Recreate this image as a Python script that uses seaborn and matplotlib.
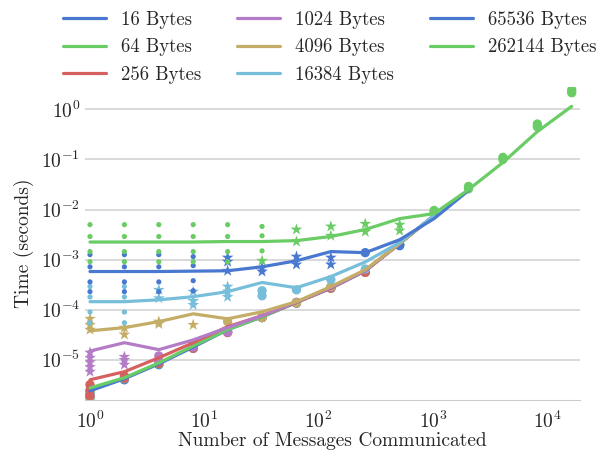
import math

import pandas as pd
import seaborn as sns
from matplotlib import pyplot as plt
from matplotlib.ticker import FuncFormatter, FixedLocator

# message sizes (bytes) and number of messages
sizes = [16, 64, 256, 1024, 4096, 16384, 65536, 262144]
counts = [1, 2, 4, 8, 16, 32, 64, 128, 256, 512, 1024, 2048, 4096, 8192, 16384]
x_ticks = [1, 10, 100, 1000, 10000]
y_ticks = [1e-5, 1e-4, 1e-3, 1e-2, 1e-1, 1]

# average time (seconds) per message count, one list per size
line_16 = [2.4e-6, 4.2e-6, 8.3e-6, 1.8e-5, 4.0e-5, 7.2e-5, 1.4e-4, 2.7e-4, 6.0e-4, 2.1e-3, 7.6e-3]
line_64 = [2.75e-6, 4.4e-6, 8.7e-6, 1.9e-5, 4.0e-5, 7.2e-5, 1.4e-4, 2.7e-4, 6.0e-4, 2.1e-3, 7.6e-3]
line_256 = [4.0e-6, 5.8e-6, 1.1e-5, 2.2e-5, 4.6e-5, 7.6e-5, 1.4e-4, 2.7e-4, 6.0e-4, 2.1e-3, 7.6e-3]
line_1024 = [1.5e-5, 2.2e-5, 1.6e-5, 2.5e-5, 4.4e-5, 7.6e-5, 1.42e-4, 2.75e-4, 6.0e-4, 2.1e-3, 7.6e-3]
line_4096 = [3.8e-5, 4.4e-5, 5.8e-5, 8.3e-5, 6.6e-5, 9.1e-5, 1.45e-4, 2.9e-4, 6.3e-4, 2.1e-3, 7.6e-3]
line_16384 = [1.45e-4, 1.45e-4, 1.58e-4, 1.82e-4, 2.3e-4, 3.5e-4, 2.75e-4, 4.6e-4, 9.0e-4, 2.2e-3, 7.6e-3]
line_65536 = [5.8e-4, 5.8e-4, 5.8e-4, 5.9e-4, 6.0e-4, 7.2e-4, 9.5e-4, 1.45e-3, 1.38e-3, 2.5e-3, 6.6e-3, 2.4e-2]
line_262144 = [2.25e-3, 2.25e-3, 2.25e-3, 2.25e-3, 2.3e-3, 2.3e-3, 2.4e-3, 2.9e-3, 4.0e-3, 6.6e-3,
               8.3e-3, 2.5e-2, 8.7e-2, 0.36, 1.15]

# individual runs: (messages, seconds, marker kind)
pts_16 = [(1, 1.8e-6, 'circle'), (1, 2.1e-6, 'circle'), (2, 4.0e-6, 'circle'), (4, 8.0e-6, 'circle'),
          (8, 1.7e-5, 'circle'), (16, 3.6e-5, 'circle'), (32, 7.0e-5, 'circle'), (64, 1.35e-4, 'circle'),
          (128, 2.7e-4, 'circle'), (256, 5.6e-4, 'circle'), (512, 2.0e-3, 'circle')]
pts_64 = [(1, 1.7e-6, 'circle'), (1, 2.3e-6, 'circle'), (2, 4.2e-6, 'circle'), (4, 8.3e-6, 'circle'),
          (8, 1.75e-5, 'circle'), (16, 3.6e-5, 'circle'), (32, 7.0e-5, 'circle'), (64, 1.4e-4, 'circle'),
          (128, 2.7e-4, 'circle'), (256, 5.6e-4, 'circle'), (512, 2.0e-3, 'circle')]
pts_256 = [(1, 1.9e-6, 'circle'), (1, 2.5e-6, 'circle'), (1, 3.2e-6, 'circle'), (2, 4.3e-6, 'circle'),
           (2, 4.8e-6, 'circle'), (4, 8.5e-6, 'circle'), (8, 1.7e-5, 'circle'), (16, 3.5e-5, 'circle'),
           (32, 7.0e-5, 'circle'), (64, 1.4e-4, 'circle'), (128, 2.7e-4, 'circle'), (256, 5.6e-4, 'circle')]
pts_1024 = [(1, 5.8e-6, 'star'), (1, 7.2e-6, 'star'), (1, 9.0e-6, 'star'), (1, 1.1e-5, 'star'),
            (1, 1.4e-5, 'star'), (2, 8.0e-6, 'star'), (2, 1.0e-5, 'star'), (2, 1.15e-5, 'star'),
            (4, 9.5e-6, 'circle'), (4, 1.2e-5, 'circle'), (8, 1.8e-5, 'circle'), (8, 2.1e-5, 'circle'),
            (16, 3.6e-5, 'circle'), (32, 7.0e-5, 'circle'), (64, 1.4e-4, 'circle'), (128, 2.8e-4, 'circle')]
pts_4096 = [(1, 4.0e-5, 'star'), (1, 5.0e-5, 'star'), (1, 6.6e-5, 'star'), (2, 3.2e-5, 'star'),
            (2, 4.4e-5, 'star'), (4, 5.2e-5, 'star'), (4, 5.8e-5, 'star'), (8, 5.0e-5, 'star'),
            (16, 5.8e-5, 'circle'), (32, 7.0e-5, 'circle'), (64, 1.38e-4, 'circle'), (128, 2.9e-4, 'circle')]
pts_16384 = [(1, 2.9e-4, 'dot'), (1, 1.8e-4, 'dot'), (1, 9.0e-5, 'dot'), (1, 5.5e-5, 'dot'),
             (2, 2.9e-4, 'dot'), (2, 1.8e-4, 'dot'), (2, 9.0e-5, 'dot'), (2, 5.5e-5, 'dot'),
             (4, 2.5e-4, 'star'), (4, 1.7e-4, 'star'), (8, 2.3e-4, 'star'), (8, 1.5e-4, 'star'),
             (8, 1.25e-4, 'star'), (16, 2.9e-4, 'star'), (16, 2.3e-4, 'star'), (16, 1.8e-4, 'star'),
             (32, 2.4e-4, 'circle'), (32, 1.9e-4, 'circle'), (64, 2.5e-4, 'circle'), (128, 4.0e-4, 'circle'),
             (256, 6.5e-4, 'circle'), (512, 2.0e-3, 'circle')]
pts_65536 = [(1, 1.26e-3, 'dot'), (1, 7.2e-4, 'dot'), (1, 3.6e-4, 'dot'), (1, 2.3e-4, 'dot'),
             (2, 1.26e-3, 'dot'), (2, 7.2e-4, 'dot'), (2, 3.6e-4, 'dot'), (2, 2.3e-4, 'dot'),
             (4, 1.26e-3, 'dot'), (4, 7.2e-4, 'dot'), (4, 3.6e-4, 'dot'), (4, 2.3e-4, 'dot'),
             (8, 1.15e-3, 'dot'), (8, 7.6e-4, 'dot'), (8, 3.8e-4, 'dot'), (8, 2.4e-4, 'dot'),
             (16, 1.1e-3, 'star'), (16, 9.1e-4, 'star'), (16, 6.0e-4, 'star'), (32, 6.9e-4, 'star'),
             (32, 5.8e-4, 'star'), (64, 1.15e-3, 'star'), (64, 8.0e-4, 'star'), (128, 1.1e-3, 'star'),
             (128, 8.0e-4, 'star'), (256, 1.38e-3, 'circle'), (512, 1.9e-3, 'circle')]
pts_262144 = [(1, 5.0e-3, 'dot'), (1, 2.9e-3, 'dot'), (1, 1.45e-3, 'dot'), (1, 9.1e-4, 'dot'),
              (2, 5.0e-3, 'dot'), (2, 2.9e-3, 'dot'), (2, 1.45e-3, 'dot'), (2, 9.1e-4, 'dot'),
              (4, 5.0e-3, 'dot'), (4, 2.9e-3, 'dot'), (4, 1.45e-3, 'dot'), (4, 9.1e-4, 'dot'),
              (8, 5.0e-3, 'dot'), (8, 2.9e-3, 'dot'), (8, 1.45e-3, 'dot'), (8, 9.1e-4, 'dot'),
              (16, 5.0e-3, 'dot'), (16, 2.9e-3, 'dot'), (16, 1.45e-3, 'dot'), (16, 9.1e-4, 'dot'),
              (32, 4.6e-3, 'dot'), (32, 3.0e-3, 'dot'), (32, 1.5e-3, 'dot'), (32, 9.5e-4, 'star'),
              (64, 4.0e-3, 'star'), (64, 2.3e-3, 'star'), (128, 4.6e-3, 'star'), (128, 3.0e-3, 'star'),
              (256, 5.2e-3, 'star'), (256, 3.6e-3, 'star'), (512, 5.0e-3, 'star'), (512, 3.8e-3, 'star'),
              (1024, 8.7e-3, 'circle'), (1024, 9.6e-3, 'circle'), (2048, 2.6e-2, 'circle'),
              (2048, 2.9e-2, 'circle'), (4096, 0.1, 'circle'), (4096, 0.11, 'circle'),
              (8192, 0.45, 'circle'), (8192, 0.51, 'circle'), (16384, 2.15, 'circle'), (16384, 2.45, 'circle')]

colors = ["#4878CF", "#6ACC65", "#D65F5F", "#B47CC7", "#C4AD66", "#77BEDB", "#4878CF", "#6ACC65"]

lines = [line_16, line_64, line_256, line_1024, line_4096, line_16384, line_65536, line_262144]
points = [pts_16, pts_64, pts_256, pts_1024, pts_4096, pts_16384, pts_65536, pts_262144]
labels = [f'{s} Bytes' for s in sizes]
palette = dict(zip(labels, colors))

line_rows = []
pt_rows = []
for lab, ln, pts in zip(labels, lines, points):
    for n, t in zip(counts, ln):
        line_rows.append({'n': n, 'time': t, 'label': lab})
    for n, t, kind in pts:
        pt_rows.append({'n': n, 'time': t, 'label': lab, 'kind': kind})
line_df = pd.DataFrame(line_rows)
pt_df = pd.DataFrame(pt_rows)

sns.set_style('whitegrid')
plt.rcParams['font.family'] = 'cmr10'
plt.rcParams['mathtext.fontset'] = 'cm'
plt.rcParams['font.size'] = 14
plt.rcParams['axes.formatter.use_mathtext'] = True

fig = plt.figure(figsize=(5.98, 4.53), dpi=100)
ax = fig.add_axes([0.1421, 0.117, 0.828, 0.691])
ax.set_xscale('log')
ax.set_yscale('log')

sns.scatterplot(data=pt_df, x='n', y='time', hue='label', hue_order=labels, palette=palette,
                style='kind', markers={'dot': 'o', 'circle': 'o', 'star': '*'},
                size='kind', sizes={'dot': 14, 'circle': 45, 'star': 80},
                linewidth=0, legend=False, ax=ax)
sns.lineplot(data=line_df, x='n', y='time', hue='label', hue_order=labels, palette=palette,
             linewidth=2.3, errorbar=None, ax=ax)

ax.set_xlim(0.904, 19400)
ax.set_ylim(1.58e-6, 2.8)
ax.xaxis.set_major_locator(FixedLocator(x_ticks))
ax.yaxis.set_major_locator(FixedLocator(y_ticks))
ax.xaxis.set_minor_locator(FixedLocator([]))
ax.yaxis.set_minor_locator(FixedLocator([]))
fmt = FuncFormatter(lambda v, p: r'$10^{%d}$' % round(math.log10(v)))
ax.xaxis.set_major_formatter(fmt)
ax.yaxis.set_major_formatter(fmt)
ax.grid(axis='x', visible=False)
ax.grid(axis='y', which='major', color='#d0d0d0', linewidth=1.1)
ax.tick_params(axis='x', labelsize=14, pad=4)
ax.tick_params(axis='y', labelsize=14, pad=0)
sns.despine(ax=ax, left=True)
ax.spines['bottom'].set_color('#cccccc')

ax.set_xlabel('Number of Messages Communicated', fontsize=14, labelpad=0)
ax.set_ylabel('Time (seconds)', fontsize=14, labelpad=5)

handles, labs = ax.get_legend_handles_labels()
ax.legend(handles, labs, loc='lower center', bbox_to_anchor=(0.494, 0.975), ncol=3, frameon=False,
          fontsize=13.5, handlelength=2.3, handletextpad=0.8, columnspacing=1.9, labelspacing=0.5,
          borderaxespad=0.2)

fig.savefig('out.png', dpi=100)
